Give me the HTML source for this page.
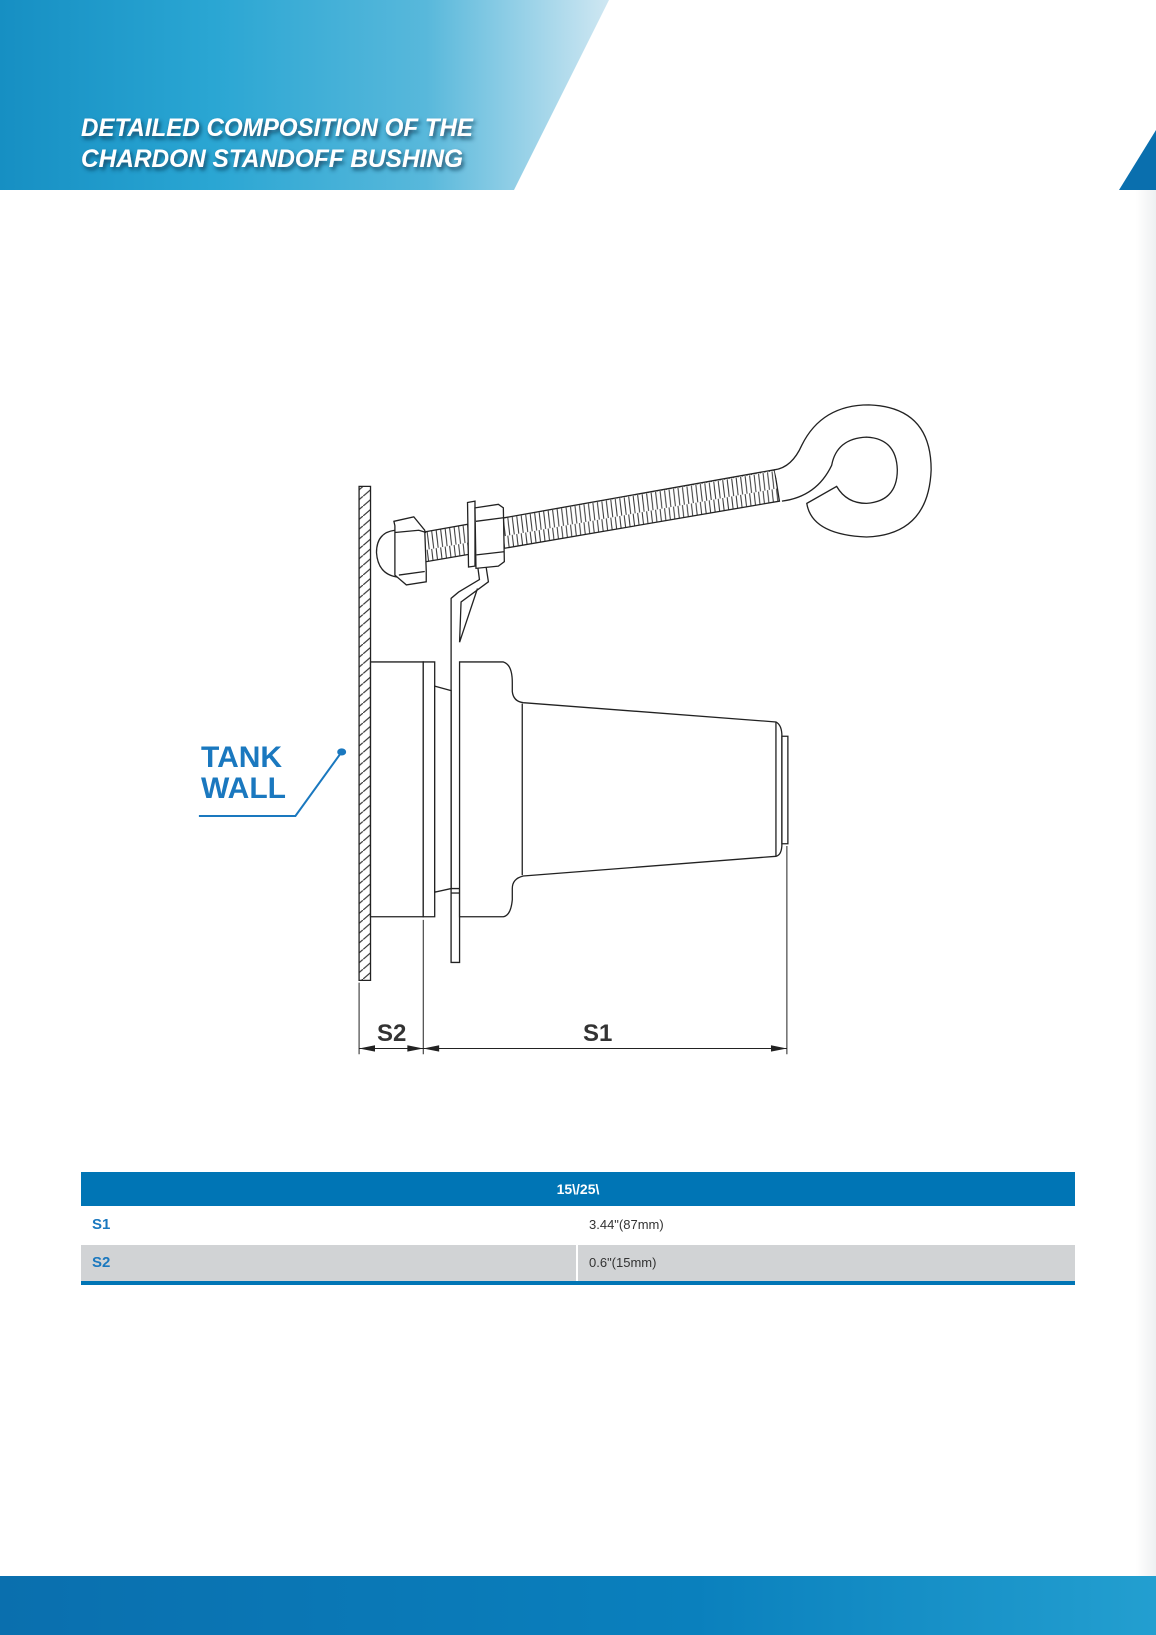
<!DOCTYPE html>
<html><head><meta charset="utf-8"><style>
body{margin:0;width:1156px;height:1635px;position:relative;background:#fff;overflow:hidden;font-family:"Liberation Sans",sans-serif}
.abs{position:absolute}
.lbl{color:#1a78bf;font-weight:bold;font-size:30px;line-height:1}
.dim{color:#333;font-weight:bold;font-size:24px;line-height:1}
</style></head><body>
<div class="abs" style="left:1136px;top:190px;width:20px;height:1386px;background:linear-gradient(90deg,#fff,#eef0f1)"></div>
<svg class="abs" style="left:0;top:0" width="1156" height="200">
<defs><linearGradient id="hg" x1="0" x2="1"><stop offset="0" stop-color="#168fc3"/><stop offset="0.35" stop-color="#2aa6d3"/><stop offset="0.7" stop-color="#58b8db"/><stop offset="1" stop-color="#cfe7f2"/></linearGradient>
<filter id="sh"><feDropShadow dx="2" dy="3" stdDeviation="2" flood-color="#0a3550" flood-opacity="0.8"/></filter></defs>
<polygon points="0,0 609,0 514,190 0,190" fill="url(#hg)"/>
<polygon points="1156,130 1156,190 1119,190" fill="#0a6fae"/>
<g filter="url(#sh)" fill="#fff" font-weight="bold" font-style="italic" font-size="25" font-family="Liberation Sans,sans-serif">
<text x="81" y="136" textLength="392" lengthAdjust="spacingAndGlyphs">DETAILED COMPOSITION OF THE</text>
<text x="81" y="167" textLength="382" lengthAdjust="spacingAndGlyphs">CHARDON STANDOFF BUSHING</text></g>
</svg>

<svg class="abs" style="left:180px;top:377.6px" width="780" height="700" viewBox="0 0 1568 1563" preserveAspectRatio="none">
<defs>
<pattern id="hatch" width="23" height="22" patternUnits="userSpaceOnUse"><line x1="0" y1="22" x2="23" y2="0" stroke="#333" stroke-width="1.2" vector-effect="non-scaling-stroke"/></pattern>
<pattern id="thr" width="9" height="40" patternUnits="userSpaceOnUse" patternTransform="skewY(-11)"><line x1="2" y1="0" x2="6" y2="40" stroke="#333" stroke-width="1" vector-effect="non-scaling-stroke"/></pattern>
</defs>
<g fill="none" stroke="#222" stroke-width="1.3" vector-effect="non-scaling-stroke">
<rect x="360" y="242" width="23" height="1103" fill="url(#hatch)" vector-effect="non-scaling-stroke"/>
<polygon points="485,345 1195,205 1205,275 485,412" fill="url(#thr)" vector-effect="non-scaling-stroke"/>
<path d="M1195,205 Q1230,200 1250,150 Q1290,60 1385,60 Q1510,65 1510,205 Q1505,350 1380,355 Q1270,350 1260,280 L1320,242 Q1340,280 1380,280 Q1442,275 1442,205 Q1440,135 1380,132 Q1320,135 1310,195 Q1280,265 1210,275" fill="#fff" vector-effect="non-scaling-stroke"/>
<path d="M432,340 Q395,345 395,390 Q398,440 440,445" fill="#fff" vector-effect="non-scaling-stroke"/>
<polygon points="430,320 470,310 492,340 495,430 495,455 455,462 432,440 432,330" fill="#fff" vector-effect="non-scaling-stroke"/>
<path d="M432,345 L480,340 L495,345 M440,440 L492,432" vector-effect="non-scaling-stroke"/>
<path d="M545,1305 L545,492 L560,478 L602,450 L596,400 L612,398 L620,455 L565,500 L562,590 M562,590 L598,470" fill="#fff" vector-effect="non-scaling-stroke"/>
<polygon points="578,278 593,275 593,420 580,422" fill="#fff" vector-effect="non-scaling-stroke"/>
<polygon points="593,290 640,282 650,290 652,410 640,420 595,425" fill="#fff" vector-effect="non-scaling-stroke"/>
<path d="M595,320 L650,312 M596,395 L651,388" vector-effect="non-scaling-stroke"/>
<rect x="383" y="634" width="106" height="569" fill="#fff" vector-effect="non-scaling-stroke"/>
<rect x="489" y="634" width="23" height="569" fill="#fff" vector-effect="non-scaling-stroke"/>
<polygon points="512,688 545,698 545,1140 512,1148" fill="#fff" vector-effect="non-scaling-stroke"/>
<rect x="545" y="1140" width="17" height="165" fill="#fff" vector-effect="non-scaling-stroke"/>
<line x1="545" y1="1150" x2="562" y2="1150" vector-effect="non-scaling-stroke"/>
<path d="M562,634 L650,634 Q668,640 668,680 L668,700 Q670,722 690,725 L1198,768 Q1210,775 1210,800 L1210,1040 Q1210,1065 1198,1068 L690,1112 Q668,1118 668,1140 L668,1165 Q665,1200 650,1203 L562,1203 Z" fill="#fff" vector-effect="non-scaling-stroke"/>
<line x1="688" y1="727" x2="688" y2="1110" vector-effect="non-scaling-stroke"/>
<line x1="1198" y1="768" x2="1198" y2="1068" vector-effect="non-scaling-stroke"/>
<rect x="1210" y="800" width="12" height="240" fill="#fff" vector-effect="non-scaling-stroke"/>
<path d="M360,1350 V1510 M489,1210 V1510 M1220,1045 V1510 M360,1497 H1220" stroke-width="1" vector-effect="non-scaling-stroke"/>
</g>
<g fill="#222">
<polygon points="360,1497 392,1490 392,1504"/><polygon points="489,1497 457,1490 457,1504"/>
<polygon points="489,1497 521,1490 521,1504"/><polygon points="1220,1497 1188,1490 1188,1504"/>
</g>
<g stroke="#1a78bf" stroke-width="2" fill="none"><path d="M325,835 L232,978 L38,978" vector-effect="non-scaling-stroke"/></g>
<ellipse cx="325" cy="835" rx="9" ry="8" fill="#1a78bf"/>
</svg>
<div class="abs lbl" style="left:201px;top:743px">TANK</div>
<div class="abs lbl" style="left:201px;top:774px">WALL</div>
<div class="abs dim" style="left:377px;top:1022px">S2</div>
<div class="abs dim" style="left:583px;top:1022px">S1</div>

<div class="abs" style="left:81px;top:1172px;width:994px;height:34px;background:#0075b5;color:#fff;font-weight:bold;font-size:14px;text-align:center;line-height:34px">15\/25\</div>
<div class="abs" style="left:81px;top:1206px;width:994px;height:39px;background:#fff"></div>
<div class="abs" style="left:81px;top:1245px;width:994px;height:36px;background:#d1d3d5"></div>
<div class="abs" style="left:576px;top:1245px;width:2px;height:40px;background:#fff"></div>
<div class="abs" style="left:81px;top:1281px;width:994px;height:4px;background:#0075b5"></div>
<div class="abs" style="left:92px;top:1216px;color:#1a78bf;font-weight:bold;font-size:15px">S1</div>
<div class="abs" style="left:589px;top:1217px;color:#333;font-size:13px">3.44"(87mm)</div>
<div class="abs" style="left:92px;top:1254px;color:#1a78bf;font-weight:bold;font-size:15px">S2</div>
<div class="abs" style="left:589px;top:1255px;color:#333;font-size:13px">0.6"(15mm)</div>

<div class="abs" style="left:0;top:1576px;width:1156px;height:59px;background:linear-gradient(90deg,#0a6fae,#0a80bd 60%,#239fd0)"></div>
</body></html>
